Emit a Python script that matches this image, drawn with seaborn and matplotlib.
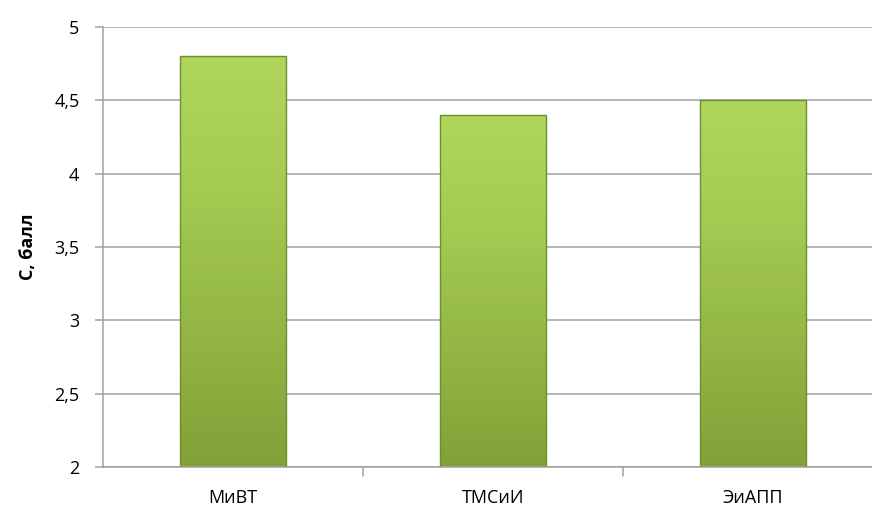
import numpy as np
import pandas as pd
import matplotlib
matplotlib.use("Agg")
import matplotlib.pyplot as plt
import seaborn as sns
from matplotlib.colors import LinearSegmentedColormap
from matplotlib.ticker import FuncFormatter
from matplotlib.patches import Rectangle

categories = ["МиВТ", "ТМСиИ", "ЭиАПП"]
values = [4.8, 4.4, 4.5]
y_label = "С, балл"
y_ticks = [2, 2.5, 3, 3.5, 4, 4.5, 5]

sns.set_theme(style="white")
plt.rcParams['font.family'] = ['Open Sans', 'DejaVu Sans']

df = pd.DataFrame({"cat": categories, "val": values})

fig = plt.figure(figsize=(8.72, 5.11), dpi=100)
ax = fig.add_axes([103/872, 1-467/511, 1-103/872, (467-27)/511])

sns.barplot(data=df, x="cat", y="val", ax=ax, color="#9bbb45", width=0.41,
            edgecolor="#6f8f2c", linewidth=1.0, zorder=3)

YMIN, YMAX = 2, 5
ax.set_ylim(YMIN, YMAX)
ax.set_xlim(-0.5, 2.458)
ax.set_yticks(y_ticks)
ax.yaxis.set_major_formatter(FuncFormatter(lambda v, p: (f"{v:g}").replace(".", ",")))
ax.grid(axis="y", color="#a0a0a0", linewidth=1.1, zorder=0)
ax.set_axisbelow(True)

# gradient fill
cmap = LinearSegmentedColormap.from_list("g", ["#82a138", "#93b644", "#a4ca52", "#b0d65c"])
grad = np.linspace(0, 1, 256).reshape(-1, 1)
for p in ax.patches:
    x0, y0 = p.get_x(), p.get_y()
    w, h = p.get_width(), p.get_height()
    ybot = max(y0, YMIN)
    ytop = y0 + h
    p.set_facecolor("none")
    clip = Rectangle((x0, ybot), w, ytop - ybot, transform=ax.transData)
    im = ax.imshow(grad, cmap=cmap, aspect="auto", origin="lower",
                   extent=[x0, x0 + w, ybot, ytop], zorder=2.5, interpolation="bicubic")
    im.set_clip_path(clip)
ax.set_xlim(-0.5, 2.458)
ax.set_ylim(YMIN, YMAX)

for s in ["top", "right"]:
    ax.spines[s].set_visible(False)
for s in ["left", "bottom"]:
    ax.spines[s].set_color("#a0a0a0")
    ax.spines[s].set_linewidth(1.1)
ax.spines["bottom"].set_zorder(4)

ax.set_xticks([0, 1, 2])
ax.set_xticklabels(categories)
ax.tick_params(axis="x", length=0, labelsize=13, pad=16, colors="black")
ax.tick_params(axis="y", length=6, width=1.1, color="#a0a0a0", labelsize=13, pad=11, colors="black", left=True)
for xb in [0.5, 1.5]:
    ax.plot([xb, xb], [0, -0.02], transform=ax.get_xaxis_transform(), color="#a0a0a0",
            linewidth=1.1, clip_on=False)
ax.set_xlabel("")
ax.set_ylabel(y_label, fontsize=13, fontweight="bold", labelpad=12, color="black")

fig.savefig("out.png", dpi=100)
